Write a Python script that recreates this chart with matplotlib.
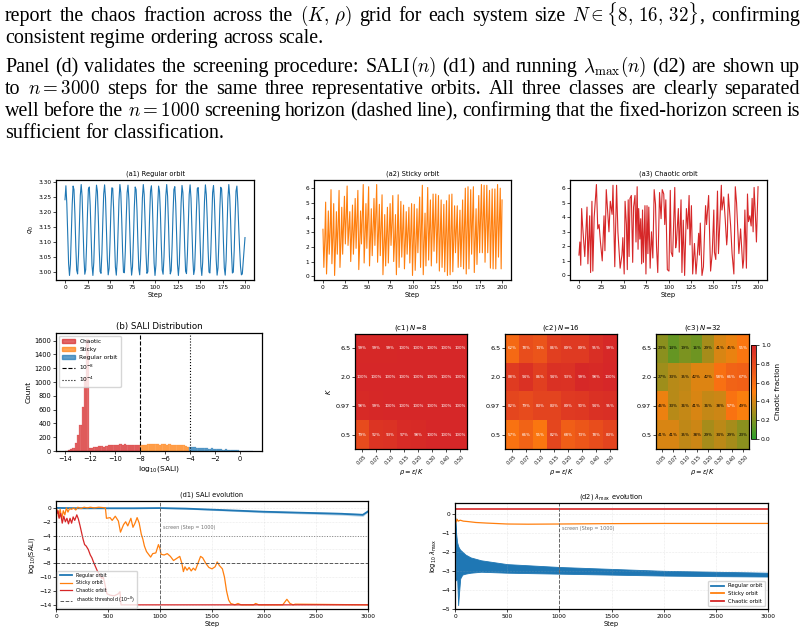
import numpy as np
import matplotlib
matplotlib.use('Agg')
import matplotlib.pyplot as plt
from matplotlib.colors import LinearSegmentedColormap
from matplotlib.lines import Line2D
from matplotlib.patches import Patch

W, H, DPI = 805, 638, 100

# ---------------- data ----------------
# (a1) regular orbit, q0 per step (0..200)
a1_vals = [3.24, 3.286, 3.228, 3.125, 3.029, 2.990, 3.027, 3.120, 3.224, 3.285, 3.273, 3.193, 3.086,
           3.007, 2.995, 3.056, 3.160, 3.254, 3.290, 3.251, 3.155, 3.052, 2.994, 3.009, 3.091, 3.197,
           3.275, 3.282, 3.220, 3.116, 3.023, 2.990, 3.033, 3.129, 3.232, 3.288, 3.268, 3.184, 3.078,
           3.003, 2.997, 3.063, 3.168, 3.259, 3.289, 3.246, 3.147, 3.045, 2.992, 3.013, 3.099, 3.205,
           3.279, 3.278, 3.212, 3.108, 3.018, 2.991, 3.039, 3.137, 3.239, 3.290, 3.263, 3.176, 3.070,
           3.000, 2.999, 3.070, 3.176, 3.263, 3.288, 3.240, 3.139, 3.038, 2.991, 3.018, 3.107, 3.213,
           3.282, 3.273, 3.204, 3.099, 3.013, 2.992, 3.045, 3.145, 3.246, 3.290, 3.257, 3.167, 3.062,
           2.997, 3.002, 3.078, 3.184, 3.268, 3.286, 3.234, 3.130, 3.031, 2.990, 3.023, 3.116, 3.221,
           3.285, 3.268, 3.196, 3.091, 3.008, 2.994, 3.051, 3.153, 3.252, 3.290, 3.251, 3.159, 3.055,
           2.995, 3.006, 3.086, 3.192, 3.273, 3.283, 3.227, 3.122, 3.026, 2.990, 3.028, 3.124, 3.229,
           3.287, 3.263, 3.188, 3.083, 3.004, 2.996, 3.058, 3.161, 3.257, 3.289, 3.245, 3.150, 3.048,
           2.993, 3.010, 3.094, 3.200, 3.277, 3.280, 3.220, 3.113, 3.020, 2.990, 3.034, 3.132, 3.236,
           3.289, 3.257, 3.180, 3.075, 3.001, 2.998, 3.065, 3.170, 3.263, 3.287, 3.238, 3.141, 3.041,
           2.991, 3.015, 3.102, 3.208, 3.281, 3.276, 3.212, 3.104, 3.015, 2.991, 3.040, 3.141, 3.244,
           3.290, 3.251, 3.171, 3.067, 2.998, 3.001, 3.072, 3.178, 3.268, 3.285, 3.231, 3.150, 3.080,
           3.020, 2.992, 2.995, 3.035, 3.075, 3.115]

# (a2) sticky orbit, one value per step
a2_vals = [3.2,
           0.6, 2.4, 5.05, 0.15, 1.9, 4.45, 1.5, 3.0, 5.9, 0.85, 2.6, 4.95, 0.05, 2.0, 4.4,
           1.5, 3.4, 5.85, 0.6, 2.2, 4.7, 1.5, 3.6, 5.45, 2.2, 4.0, 6.15, 2.1, 3.3, 4.4,
           1.0, 2.8, 4.85, 1.5, 3.1, 5.3, 1.9, 3.8, 5.85, 0.45, 2.1, 4.45, 2.2, 4.1, 6.25,
           0.9, 2.7, 4.95, 1.9, 3.9, 6.1, 0.7, 2.5, 4.6, 1.4, 3.2, 5.3, 2.1, 4.2, 6.25,
           0.95, 2.9, 4.9, 1.4, 3.3, 5.55, 0.1, 2.0, 4.2, 0.7, 2.6, 4.7, 0.9, 3.0, 4.95,
           2.1, 3.6, 5.5, 1.0, 2.4, 4.2, 0.1, 2.9, 5.55, 0.6, 2.7, 5.1, 1.3, 3.1, 4.85,
           0.5, 2.3, 4.4, 1.5, 3.0, 4.7, 0.9, 2.8, 4.95, 0.05, 2.5, 4.9, 0.4, 2.2, 4.6,
           1.6, 3.5, 5.4, 0.6, 3.3, 6.2, 0.1, 2.1, 4.3, 0.7, 3.4, 6.05, 1.1, 3.1, 5.2,
           0.7, 3.0, 5.6, 1.7, 3.6, 5.6, 0.9, 3.2, 5.5, 0.35, 2.8, 5.2, 0.6, 2.6, 4.9,
           0.3, 2.7, 5.15, 0.05, 2.9, 5.55, 0.1, 3.0, 5.6, 0.3, 2.4, 4.8, 1.6, 3.2, 4.8,
           0.6, 2.5, 4.5, 0.65, 2.9, 5.2, 0.5, 3.3, 6.0, 0.15, 3.1, 6.1, 0.5, 3.2, 5.9,
           1.5, 3.8, 6.1, 0.25, 2.4, 4.6, 0.8, 3.1, 5.5, 1.6, 3.9, 6.25, 1.6, 4.0, 6.2,
           0.95, 3.6, 6.2, 1.6, 3.7, 5.85, 0.55, 3.2, 5.95, 0.5, 3.3, 5.95, 0.5, 3.4, 6.25,
           1.3, 3.6, 6.0, 0.5, 5.2]

# (a3) chaotic orbit: read points (step, q)
a3_steps = [0, 1, 2, 3, 4, 5, 6.5, 9, 10, 12, 13, 14.5, 15.5, 17, 19.5, 21, 22.5, 24, 26, 28, 29, 30.5,
            32, 33.5, 35, 37, 38, 40, 42, 43.5, 46, 48, 49, 50.5, 51.5, 53, 54, 55, 56, 57, 58.5, 60,
            61, 62.6, 63.7, 65, 66, 66.7, 68, 69, 70, 71, 72, 73.7, 74.8, 76, 77, 78, 79.5, 81, 82.5,
            84, 85.5, 86.6, 88, 90, 91.7, 93, 94.7, 95.8, 97, 98.7, 100.5, 102, 103, 104.6, 107, 108,
            109, 111, 112, 114, 115, 116.5, 118, 120, 121.5, 123, 124, 125.6, 127, 129, 130.7, 132,
            133.7, 134.5, 135.5, 137.4, 139, 140, 141.4, 142.5, 144.8, 147, 148.8, 150.6, 151.3,
            152.8, 154.7, 155.8, 157.3, 159, 159.7, 161.7, 163.3, 165, 165.7, 166.8, 169.4, 171,
            173, 174.6, 176, 177.3, 178.6, 180.5, 183, 184, 185.3, 187, 188.2, 189.3, 190.8, 192.3,
            193.4, 194.5, 195.6, 197, 198.2, 200]
a3_vals = [1.4, 2.3, 0.7, 4.6, 3.5, 2.6, 1.3, 4.7, 0.8, 4.1, 0.2, 5.1, 0.3, 4.0, 6.25, 3.2, 3.5, 2.3,
           1.0, 4.1, 1.7, 5.9, 4.5, 3.0, 5.1, 4.2, 6.2, 0.6, 6.2, 3.0, 0.5, 1.4, 2.6, 0.1, 5.1, 3.5,
           0.4, 5.2, 1.3, 5.3, 5.5, 0.9, 4.7, 5.5, 2.3, 6.1, 1.8, 4.6, 2.5, 3.9, 0.8, 4.5, 0.9, 4.8,
           0.1, 4.8, 1.5, 4.7, 0.5, 3.0, 1.2, 5.9, 4.9, 2.0, 0.2, 5.7, 3.9, 5.9, 5.6, 3.5, 5.2, 0.4,
           0.3, 5.85, 1.6, 1.3, 6.05, 1.9, 2.4, 4.6, 1.6, 5.2, 0.2, 3.8, 0.0, 4.6, 3.2, 5.5, 2.1, 4.8,
           0.1, 2.2, 0.1, 1.2, 2.9, 1.4, 3.6, 0.0, 0.6, 2.5, 4.8, 3.5, 5.5, 0.3, 1.5, 4.5, 1.6, 1.1,
           5.8, 1.5, 3.6, 6.2, 4.5, 5.4, 3.9, 2.1, 2.7, 5.6, 3.4, 1.5, 0.1, 6.1, 5.0, 3.2, 1.5, 3.2,
           0.5, 1.1, 4.5, 0.5, 5.6, 3.7, 4.1, 3.4, 5.3, 3.0, 6.05, 4.2, 2.3, 6.1]

# (b) SALI histogram: counts per bin (bin width 0.1875 starting at -14)
hist_start, hist_bin = -14.0, 0.1875
chaotic_counts = [0, 12, 25, 50, 120, 230, 370, 640, 1070, 1630, 40, 45, 55, 60, 75, 70, 60, 75, 80,
                  80, 90, 85, 90, 100, 90, 95, 90, 85, 90, 80, 85, 80]
sticky_counts = [80, 85, 90, 100, 95, 105, 100, 95, 90, 100, 95, 90, 100, 90, 85, 85, 90, 85, 80, 70, 55]
regular_counts = [60, 55, 55, 50, 45, 50, 40, 45, 35, 40, 30, 30, 25, 25, 20, 30, 20, 15, 10, 10, 15,
                  0, 0, 0, 0, 0, 0]

# (c) chaos fraction heatmaps (percent); rows K = 6.5, 2.0, 0.97, 0.5
rho_labels = ['0.05', '0.07', '0.10', '0.15', '0.20', '0.30', '0.40', '0.50']
K_labels = ['6.5', '2.0', '0.97', '0.5']
chaos_N8 = [[99, 99, 99, 100, 100, 100, 100, 100],
            [100, 100, 100, 100, 100, 100, 100, 100],
            [98, 99, 100, 100, 100, 100, 100, 100],
            [79, 92, 93, 97, 98, 100, 100, 100]]
chaos_N16 = [[62, 78, 74, 86, 89, 89, 95, 99],
             [88, 94, 86, 94, 93, 99, 98, 100],
             [82, 79, 83, 83, 89, 90, 94, 95],
             [57, 66, 55, 82, 68, 73, 78, 83]]
chaos_N32 = [[23, 14, 19, 16, 29, 41, 45, 55],
             [27, 33, 35, 42, 42, 58, 66, 67],
             [46, 33, 36, 41, 36, 38, 57, 49],
             [41, 41, 35, 38, 29, 34, 29, 23]]

# (d1) SALI evolution
d1_reg_steps = [0, 250, 500, 750, 1000, 1250, 1500, 1750, 2000, 2250, 2500, 2750, 2950, 3000]
d1_reg_vals = [0.0, -0.05, -0.05, -0.05, -0.02, -0.1, -0.25, -0.4, -0.55, -0.65, -0.75, -0.85, -1.0, -0.5]
d1_reg_spread = [0.05, 0.05, 0.05, 0.05, 0.05, 0.08, 0.1, 0.12, 0.15, 0.15, 0.18, 0.2, 0.22, 0.1]
d1_sticky_steps = [0, 15, 25, 40, 55, 70, 85, 100, 115, 130, 150, 170, 190, 210, 240, 270, 300, 330, 370,
                   410, 450, 475, 485, 520, 540, 570, 600, 620, 650, 670, 690, 720, 740, 760, 780, 800,
                   820, 835, 850, 870, 890, 910, 930, 960, 985, 1000, 1010, 1040, 1070, 1100, 1130,
                   1160, 1190, 1210, 1225, 1240, 1260, 1280, 1300, 1320, 1340, 1360, 1390, 1410, 1440,
                   1470, 1500, 1530, 1550, 1570, 1600, 1620, 1640, 1660, 1680, 1720, 1750, 1780, 1900,
                   1920, 1950, 2180, 2220, 2250, 2280, 2300, 3000]
d1_sticky_vals = [0.1, -0.5, -1.3, -0.2, -1.6, -0.4, -1.0, 0.0, -0.6, -0.1, -0.2, 0.0, -0.3, 0.1, -0.1,
                  0.1, 0.0, 0.1, 0.0, 0.1, 0.05, 0.0, -1.5, -1.4, -1.8, -1.2, -1.9, -3.5, -2.4, -2.0,
                  -2.6, -1.5, -2.8, -2.2, -1.4, -2.2, -3.8, -4.5, -5.5, -6.3, -6.7, -7.1, -6.6, -6.5,
                  -5.3, -5.9, -6.7, -6.8, -6.6, -7.0, -7.6, -7.3, -7.0, -8.0, -9.2, -8.5, -9.0, -8.6,
                  -9.1, -8.7, -9.0, -8.2, -7.0, -7.2, -8.0, -8.6, -8.8, -8.5, -7.8, -8.3, -8.8, -10.0,
                  -12.0, -13.3, -13.8, -14.0, -13.8, -14.0, -14.0, -13.8, -14.0, -14.0, -13.2, -13.8,
                  -14.0, -13.9, -14.0]
d1_chaos_steps = [0, 10, 20, 30, 45, 60, 75, 90, 105, 120, 135, 150, 165, 180, 200, 215, 230, 245, 260,
                  275, 290, 310, 330, 345, 360, 380, 400, 420, 440, 455, 470, 490, 520, 560, 600, 615,
                  625, 3000]
d1_chaos_vals = [0.0, -0.8, -0.4, -1.5, -0.8, -2.2, -1.2, -2.0, -1.5, -2.3, -1.5, -2.2, -1.3, -1.8, -1.0,
                 -1.6, -2.5, -3.5, -4.5, -5.3, -5.5, -6.0, -6.8, -7.2, -7.8, -8.5, -9.2, -9.6, -10.2,
                 -10.0, -11.0, -12.4, -12.6, -12.7, -12.4, -12.1, -14.0, -14.0]

# (d2) lambda_max evolution
d2_chaos_steps = [0, 3000]
d2_chaos_vals = [0.25, 0.25]
d2_sticky_steps = [0, 10, 20, 30, 50, 80, 120, 200, 300, 500, 700, 1000, 1500, 2000, 3000]
d2_sticky_vals = [-0.3, -0.45, -0.3, -0.4, -0.35, -0.4, -0.42, -0.47, -0.5, -0.55, -0.56, -0.55,
                  -0.53, -0.52, -0.52]
d2_reg_steps = [2, 5, 10, 20, 30, 38, 50, 70, 100, 150, 250, 500, 1000, 1500, 2000, 2500, 3000]
d2_reg_upper = [-0.2, -0.5, -1.0, -1.5, -1.7, -1.8, -1.9, -2.0, -2.15, -2.3, -2.45, -2.65, -2.8, -2.9,
                -3.0, -3.05, -3.1]
d2_reg_lower = [-0.2, -2.0, -3.5, -3.3, -4.8, -4.2, -3.4, -3.2, -3.15, -3.1, -3.05, -3.1, -3.15, -3.2,
                -3.25, -3.28, -3.3]

C_BLUE, C_ORANGE, C_RED, C_GREEN = '#1f77b4', '#ff7f0e', '#d62728', '#2ca02c'

# ---------------- figure ----------------
fig = plt.figure(figsize=(W / DPI, H / DPI), dpi=DPI)


def add_ax(x0, y0, x1, y1):
    return fig.add_axes([x0 / W, 1 - y1 / H, (x1 - x0) / W, (y1 - y0) / H])


def style(ax, ls=4.2, lw=0.9):
    for s in ax.spines.values():
        s.set_linewidth(lw)
    ax.tick_params(labelsize=ls, length=2, width=0.5, pad=1.5)


# ---- paragraph text (justified) ----
renderer = fig.canvas.get_renderer()
serif = dict(fontfamily='Liberation Serif', math_fontfamily='cm', color='black')
probe = fig.text(0, 0, 'consistent regime ordering across scale.', fontsize=13, **serif)
pw = probe.get_window_extent(renderer).width
probe.remove()
FS = 13 * 317.0 / pw
MATH_SCALE = 0.95

para_lines = [
    (["report", "the", "chaos", "fraction", "across", "the", r"$(K,\,\rho)$", "grid", "for", "each",
      "system", "size", r"$N\in\{8,\,16,\,32\}$,", "confirming"], 21, True),
    (["consistent", "regime", "ordering", "across", "scale."], 43, False),
    (["Panel", "(d)", "validates", "the", "screening", "procedure:", r"SALI$(n)$", "(d1)", "and",
      "running", r"$\lambda_{\max}(n)$", "(d2)", "are", "shown", "up"], 72, True),
    (["to", r"$n=3000$", "steps", "for", "the", "same", "three", "representative", "orbits.", "All",
      "three", "classes", "are", "clearly", "separated"], 94, True),
    (["well", "before", "the", r"$n=1000$", "screening", "horizon", "(dashed", "line),", "confirming",
      "that", "the", "fixed-horizon", "screen", "is"], 116, True),
    (["sufficient", "for", "classification."], 138, False),
]


def make_word(word):
    parts = word.split('$')
    objs = []
    for k, p in enumerate(parts):
        if not p:
            continue
        if k % 2 == 1:
            o = fig.text(0, 0, '$' + p + '$', fontsize=FS * MATH_SCALE, va='baseline', **serif)
        else:
            o = fig.text(0, 0, p, fontsize=FS, va='baseline', **serif)
        objs.append((o, o.get_window_extent(renderer).width))
    return objs


X0, X1 = 5, 800
for tokens, ybase, just in para_lines:
    words = [make_word(t) for t in tokens]
    widths = [sum(w for _, w in wd) for wd in words]
    if just:
        gap = (X1 - X0 - sum(widths)) / (len(tokens) - 1)
    else:
        gap = 0.25 * FS * DPI / 72
    x = X0
    for wd, wtot in zip(words, widths):
        xx = x
        for o, w in wd:
            o.set_position((xx / W, 1 - ybase / H))
            xx += w
        x += wtot + gap

# ---- row a ----
TFS, LFS, KFS = 4.8, 4.8, 4.2
ax1 = add_ax(56, 180, 254, 280)
ax1.plot(np.arange(len(a1_vals)), a1_vals, color=C_BLUE, lw=0.8)
ax1.set_title('(a1) Regular orbit', fontsize=TFS, pad=3)
ax1.set_xlabel('Step', fontsize=LFS, labelpad=1.5)
ax1.set_ylabel(r'$q_0$', fontsize=LFS, labelpad=1.5)
ax1.set_xticks(range(0, 201, 25))
style(ax1, KFS)

ax2 = add_ax(314, 180, 511, 280)
ax2.plot(np.arange(len(a2_vals)), a2_vals, color=C_ORANGE, lw=0.8)
ax2.set_title('(a2) Sticky orbit', fontsize=TFS, pad=3)
ax2.set_xlabel('Step', fontsize=LFS, labelpad=1.5)
ax2.set_xticks(range(0, 201, 25))
style(ax2, KFS)

ax3 = add_ax(570, 180, 767, 280)
ax3.plot(a3_steps, a3_vals, color=C_RED, lw=0.8)
ax3.set_title('(a3) Chaotic orbit', fontsize=TFS, pad=3)
ax3.set_xlabel('Step', fontsize=LFS, labelpad=1.5)
ax3.set_xticks(range(0, 201, 25))
style(ax3, KFS)

# ---- panel b ----
axb = add_ax(56, 333, 262, 451)
off = 0
for counts, col, lab in [(chaotic_counts, C_RED, 'Chaotic'), (sticky_counts, C_ORANGE, 'Sticky'),
                         (regular_counts, C_BLUE, 'Regular orbit')]:
    lefts = hist_start + hist_bin * (off + np.arange(len(counts)))
    axb.bar(lefts, counts, width=hist_bin, align='edge', color=col, alpha=0.7, label=lab,
            edgecolor=col, linewidth=0.2)
    off += len(counts)
axb.axvline(-8, color='k', ls='--', lw=0.8)
axb.axvline(-4, color='k', ls=':', lw=0.8)
handles = [Patch(color=C_RED, alpha=0.7), Patch(color=C_ORANGE, alpha=0.7), Patch(color=C_BLUE, alpha=0.7),
           Line2D([], [], color='k', ls='--', lw=0.8), Line2D([], [], color='k', ls=':', lw=0.8)]
axb.legend(handles, ['Chaotic', 'Sticky', 'Regular orbit', r'$10^{-8}$', r'$10^{-4}$'],
           loc='upper left', fontsize=4.2, handlelength=2.2, borderpad=0.5, labelspacing=0.5,
           framealpha=0.8)
axb.set_title('(b) SALI Distribution', fontsize=6.2, pad=3)
axb.set_xlabel(r'log$_{10}$(SALI)', fontsize=5.4, labelpad=1.5)
axb.set_ylabel('Count', fontsize=5.4, labelpad=2)
axb.set_xticks(range(-14, 1, 2))
axb.set_yticks(range(0, 1601, 200))
style(axb, 4.8)

# ---- panels c ----
cmap = LinearSegmentedColormap.from_list('chaos', [C_GREEN, C_ORANGE, C_RED])
cboxes = [(355, 334, 467, 449), (505, 334, 617, 449), (656, 334, 749, 449)]
ctitles = [r'(c1) $N$=8', r'(c2) $N$=16', r'(c3) $N$=32']
im = None
for i, (box, data, tt) in enumerate(zip(cboxes, [chaos_N8, chaos_N16, chaos_N32], ctitles)):
    ax = add_ax(*box)
    arr = np.array(data) / 100.0
    im = ax.imshow(arr, cmap=cmap, vmin=0, vmax=1, aspect='auto', interpolation='nearest')
    for r in range(arr.shape[0]):
        for c in range(arr.shape[1]):
            ax.text(c, r, f'{data[r][c]}%', ha='center', va='center', fontsize=2.9,
                    color='white' if data[r][c] >= 50 else 'black')
    ax.set_xticks(range(len(rho_labels)))
    ax.set_xticklabels(rho_labels, rotation=45, fontsize=3.6)
    ax.set_yticks(range(len(K_labels)))
    ax.set_yticklabels(K_labels, fontsize=4.6)
    ax.set_title(tt, fontsize=5.0, pad=3)
    ax.set_xlabel(r'$\rho = \varepsilon / K$', fontsize=4.8, labelpad=1)
    if i == 0:
        ax.set_ylabel(r'$K$', fontsize=4.8, labelpad=2)
    for s in ax.spines.values():
        s.set_linewidth(0.9)
    ax.tick_params(length=2, width=0.5, pad=1.5)
cax = add_ax(751, 345, 756, 439)
cb = fig.colorbar(im, cax=cax)
cb.set_ticks([0, 0.2, 0.4, 0.6, 0.8, 1.0])
cb.ax.tick_params(labelsize=4.4, length=2, width=0.5, pad=1.5)
cb.set_label('Chaotic fraction', fontsize=5.2, labelpad=3)
cb.outline.set_linewidth(0.6)

# ---- panel d1 ----
axd1 = add_ax(56, 501, 368, 609)
rv = np.array(d1_reg_vals)
rs = np.array(d1_reg_spread)
axd1.fill_between(d1_reg_steps, rv - rs, rv + rs, color=C_BLUE, alpha=0.3, lw=0)
axd1.plot(d1_reg_steps, d1_reg_vals, color=C_BLUE, lw=1.3, label='Regular orbit')
axd1.plot(d1_sticky_steps, d1_sticky_vals, color=C_ORANGE, lw=0.9, label='Sticky orbit')
axd1.plot(d1_chaos_steps, d1_chaos_vals, color=C_RED, lw=0.9, label='Chaotic orbit')
axd1.axhline(-8, color='0.35', ls='--', lw=0.7, label=r'chaotic threshold ($10^{-8}$)')
axd1.axhline(-4, color='0.5', ls=':', lw=0.7)
axd1.axvline(1000, color='0.4', ls='--', lw=0.7)
axd1.text(1030, -3.0, 'screen (Step = 1000)', fontsize=3.5, color='0.45')
axd1.grid(True, ls=':', lw=0.4, alpha=0.5)
axd1.set_xlim(0, 3000)
axd1.set_ylim(-14.6, 1.0)
axd1.set_yticks(range(0, -15, -2))
axd1.set_title('(d1) SALI evolution', fontsize=TFS, pad=3)
axd1.set_xlabel('Step', fontsize=LFS, labelpad=1.5)
axd1.set_ylabel(r'log$_{10}$(SALI)', fontsize=LFS, labelpad=1.5)
axd1.legend(loc='lower left', fontsize=3.4, handlelength=2.6, framealpha=0.8, borderpad=0.45,
            labelspacing=0.5, borderaxespad=0.3)
style(axd1, KFS)

# ---- panel d2 ----
axd2 = add_ax(455, 503, 768, 609)
axd2.fill_between(d2_reg_steps, d2_reg_lower, d2_reg_upper, color=C_BLUE, lw=0.6, edgecolor=C_BLUE)
axd2.plot(d2_sticky_steps, d2_sticky_vals, color=C_ORANGE, lw=0.9)
axd2.plot(d2_chaos_steps, d2_chaos_vals, color=C_RED, lw=1.2)
axd2.axvline(1000, color='0.4', ls='--', lw=0.7)
axd2.text(1030, -0.85, 'screen (Step = 1000)', fontsize=3.5, color='0.45')
axd2.grid(True, ls=':', lw=0.4, alpha=0.5)
axd2.set_xlim(0, 3000)
axd2.set_ylim(-5, 0.55)
axd2.set_title(r'(d2) $\lambda_{\max}$ evolution', fontsize=TFS, pad=3)
axd2.set_xlabel('Step', fontsize=LFS, labelpad=1.5)
axd2.set_ylabel(r'log$_{10}$ $\lambda_{\max}$', fontsize=LFS, labelpad=1.5)
lh = [Line2D([], [], color=C_BLUE, lw=1.3), Line2D([], [], color=C_ORANGE, lw=1.3),
      Line2D([], [], color=C_RED, lw=1.3)]
axd2.legend(lh, ['Regular orbit', 'Sticky orbit', 'Chaotic orbit'], loc='lower right', fontsize=3.8,
            handlelength=2.5, framealpha=0.8, borderpad=0.5, labelspacing=0.5)
style(axd2, KFS)

fig.savefig('out.png', dpi=DPI)
